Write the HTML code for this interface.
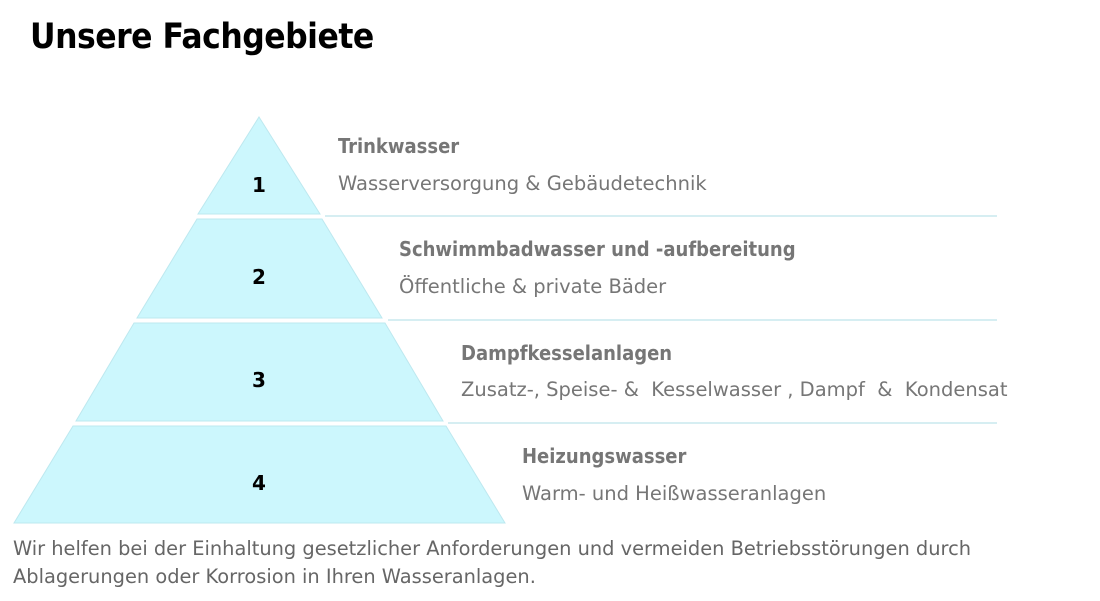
<!DOCTYPE html>
<html><head><meta charset="utf-8"><style>
body{margin:0;width:1100px;height:601px;background:#fff;overflow:hidden;position:relative;font-family:"DejaVu Sans","Liberation Sans",sans-serif}
.t{position:absolute;white-space:nowrap}
h1{position:absolute;left:30px;top:17px;margin:0;font-size:35px;font-weight:bold;color:#000;font-family:"DejaVu Sans Condensed","Liberation Sans",sans-serif;letter-spacing:-0.5px}
.h{font-weight:bold;font-size:20px;color:#767676;font-family:"DejaVu Sans Condensed","Liberation Sans",sans-serif}
.s{font-size:19.5px;color:#767676;font-family:"DejaVu Sans","Liberation Sans",sans-serif}
.n{font-weight:bold;font-size:20px;color:#000;font-family:"DejaVu Sans","Liberation Sans",sans-serif}
</style></head><body>
<h1>Unsere Fachgebiete</h1>
<svg width="1100" height="601" style="position:absolute;left:0;top:0">
<g fill="#ccf7fd" stroke="#bde8ef" stroke-width="1">
<polygon points="259,117 320,214 198,214"/>
<polygon points="197,219 322,219 382,318 137,318"/>
<polygon points="134,323 385,323 443,421 76,421"/>
<polygon points="73,426 446,426 505,523 14,523"/>
</g>
<g stroke="#c8e8ee" stroke-width="1.5">
<line x1="325" y1="216" x2="997" y2="216"/>
<line x1="388" y1="320" x2="997" y2="320"/>
<line x1="448" y1="423" x2="997" y2="423"/>
</g>
</svg>
<div class="t n" style="left:252px;top:173px">1</div>
<div class="t n" style="left:252px;top:265px">2</div>
<div class="t n" style="left:252px;top:368px">3</div>
<div class="t n" style="left:252px;top:471px">4</div>
<div class="t h" style="left:338px;top:134px">Trinkwasser</div>
<div class="t s" style="left:338px;top:172px">Wasserversorgung &amp; Gebäudetechnik</div>
<div class="t h" style="left:399px;top:237px">Schwimmbadwasser und -aufbereitung</div>
<div class="t s" style="left:399px;top:275px">Öffentliche &amp; private Bäder</div>
<div class="t h" style="left:461px;top:341px">Dampfkesselanlagen</div>
<div class="t s" style="left:461px;top:378px">Zusatz-, Speise- &amp;&nbsp; Kesselwasser , Dampf&nbsp; &amp;&nbsp; Kondensat</div>
<div class="t h" style="left:522px;top:444px">Heizungswasser</div>
<div class="t s" style="left:522px;top:482px">Warm- und Heißwasseranlagen</div>
<div class="t s" style="left:13px;top:537px;color:#666;font-size:19.4px">Wir helfen bei der Einhaltung gesetzlicher Anforderungen und vermeiden Betriebsstörungen durch</div>
<div class="t s" style="left:13px;top:565px;color:#666;font-size:19.4px">Ablagerungen oder Korrosion in Ihren Wasseranlagen.</div>
</body></html>
